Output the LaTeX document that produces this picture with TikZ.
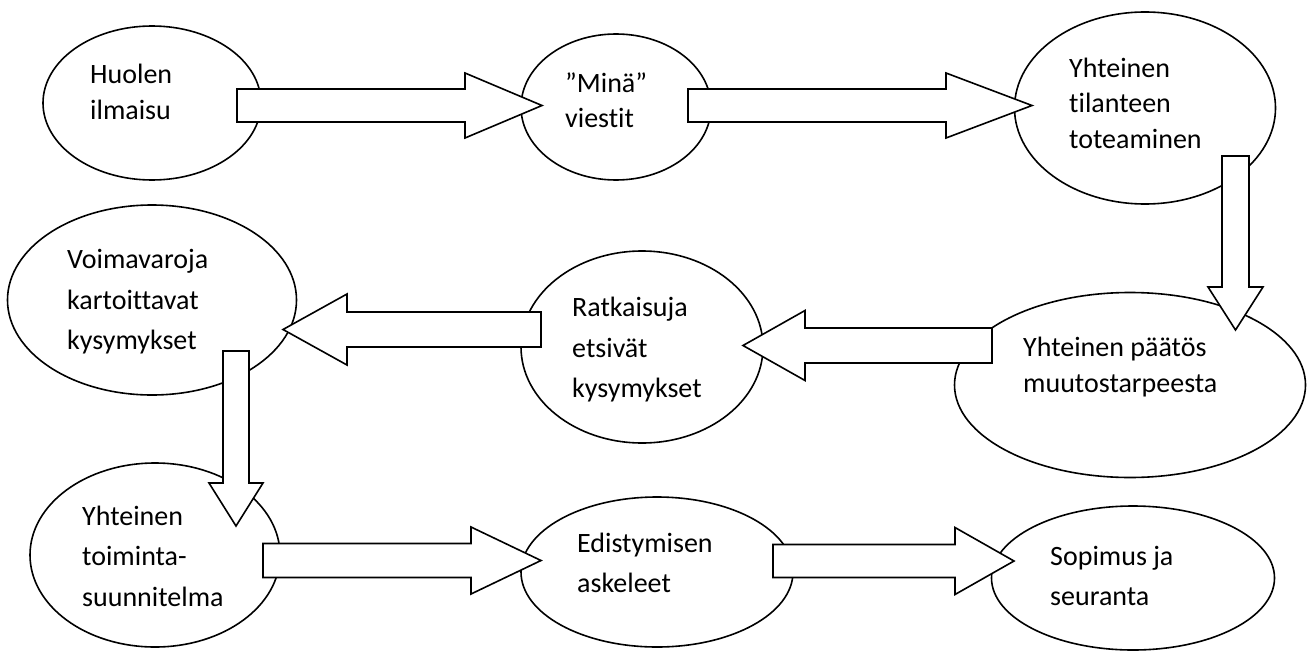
\documentclass[tikz,border=0pt]{standalone}
\usepackage{fontspec}
\setmainfont{Carlito}[RawFeature={-liga;-clig;-calt}]
\usetikzlibrary{shapes.geometric,calc}

\tikzset{
  stage/.style={draw, ellipse, line width=1.6pt, inner sep=0pt, fill=white},
  barrow/.style={draw, fill=white, line width=1.6pt, line join=miter},
  lbl/.style={anchor=west, align=left, inner sep=0pt, font={\fontsize{28}{35.5}\selectfont}},
  lblwide/.style={lbl, font={\fontsize{28}{40.5}\selectfont}}
}

% Hollow block arrow from coordinate #1 to coordinate #2:
% #3 head length, #4 half shaft width, #5 half head width
\newcommand\blockarrow[5]{%
  \path let \p1=(#1), \p2=(#2) in
    \pgfextra{%
      \pgfmathsetmacro\baangle{atan2(\y2-\y1,\x2-\x1)}%
      \pgfmathsetmacro\balength{veclen(\x2-\x1,\y2-\y1)}%
      \xdef\baA{\baangle}\xdef\baL{\balength}};
  \begin{scope}[shift={(#1)}, rotate=\baA, x=1pt, y=1pt]
    \draw[barrow] (0,-#4) -- ({\baL-#3},-#4) -- ({\baL-#3},-#5) -- (\baL,0)
      -- ({\baL-#3},#5) -- ({\baL-#3},#4) -- (0,#4) -- cycle;
  \end{scope}}

\begin{document}
\begin{tikzpicture}[x=1pt, y=-1pt]
\useasboundingbox (0,0) rectangle (1313,653);

% stages
\node[stage, minimum width=218pt, minimum height=154pt] (huoli)   at (152,103) {};
\node[stage, minimum width=190pt, minimum height=146pt] (mina)    at (616,107) {};
\node[stage, minimum width=261pt, minimum height=192pt] (tilanne) at (1145,108) {};
\node[stage, minimum width=351pt, minimum height=185pt] (paatos)  at (1130,385) {};
\node[stage, minimum width=242pt, minimum height=192pt] (ratkaisu) at (642,347) {};
\node[stage, minimum width=289pt, minimum height=190pt] (voima)   at (152,300) {};
\node[stage, minimum width=250pt, minimum height=184pt] (toiminta) at (155,555) {};
\node[stage, minimum width=272pt, minimum height=150pt] (edistys) at (657,572) {};
\node[stage, minimum width=283pt, minimum height=144pt] (sopimus) at (1133,578) {};

% arrow ends
\coordinate (a1s) at (237,105.5);  \coordinate (a1e) at (542,105.5);
\coordinate (a2s) at (688,105.5);  \coordinate (a2e) at (1032,105.5);
\coordinate (a3s) at (1235.5,156); \coordinate (a3e) at (1235.5,330);
\coordinate (a4s) at (992,345.5);  \coordinate (a4e) at (743,345.5);
\coordinate (a5s) at (541,329.5);  \coordinate (a5e) at (283,329.5);
\coordinate (a6s) at (236,351);    \coordinate (a6e) at (236,526);
\coordinate (a7s) at (263,560.5);  \coordinate (a7e) at (541,560.5);
\coordinate (a8s) at (773,561);    \coordinate (a8e) at (1014,561);

\blockarrow{a1s}{a1e}{77}{16.5}{32.5}
\blockarrow{a2s}{a2e}{86}{16.5}{32.5}
\blockarrow{a3s}{a3e}{43}{13.5}{27.5}
\blockarrow{a4s}{a4e}{62}{17.5}{35}
\blockarrow{a5s}{a5e}{64}{17.5}{35.5}
\blockarrow{a6s}{a6e}{43}{13}{27}
\blockarrow{a7s}{a7e}{70}{17}{33.5}
\blockarrow{a8s}{a8e}{59}{16.5}{33.5}

% texts
\node[lbl] (thuoli)    at (90,92)    {Huolen\\ilmaisu};
\node[lbl] (tmina)     at (565,100)  {”Minä”\\viestit};
\node[lbl] (ttilanne)  at (1069,103) {Yhteinen\\tilanteen\\toteaminen};
\node[lbl] (tpaatos)   at (1023,367) {Yhteinen päätös\\muutostarpeesta};
\node[lblwide] (tratkaisu) at (572,350) {Ratkaisuja\\etsivät\\kysymykset};
\node[lblwide] (tvoima)    at (67,302)  {Voimavaroja\\kartoittavat\\kysymykset};
\node[lblwide] (ttoiminta) at (82,556)  {Yhteinen\\toiminta-\\suunnitelma};
\node[lblwide] (tedistys)  at (577,563) {Edistymisen\\askeleet};
\node[lblwide] (tsopimus)  at (1050,576) {Sopimus ja\\seuranta};
\end{tikzpicture}
\end{document}
